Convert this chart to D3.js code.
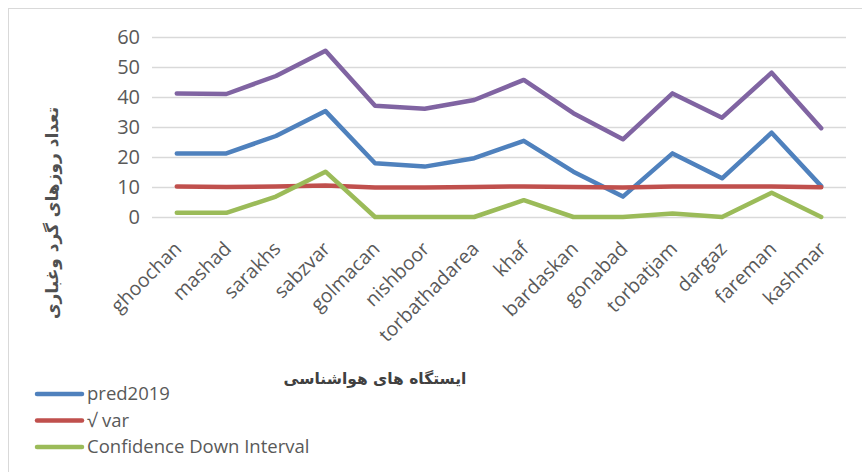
<!DOCTYPE html>
<html><head><meta charset="utf-8">
<script src="https://cdn.jsdelivr.net/npm/d3@7/dist/d3.min.js"></script>
<style>body{margin:0;background:#fff}svg{display:block}</style>
</head><body><svg id="c" width="862" height="472"></svg>
<script>
const categories = ["ghoochan","mashad","sarakhs","sabzvar","golmacan","nishboor","torbathadarea","khaf","bardaskan","gonabad","torbatjam","dargaz","fareman","kashmar"];
const pred2019 = [21.2,21.2,27,35.3,17.9,16.8,19.6,25.4,15.1,6.8,21.2,12.9,28.1,10.3];
const sqrtVar = [10.2,10.0,10.2,10.5,9.8,9.8,10.0,10.2,10.0,9.8,10.2,10.2,10.2,9.9];
const confDown = [1.4,1.4,6.8,15.1,0,0,0,5.6,0,0,1.2,0,8.1,0];
const confUp = [41.2,41,47,55.4,37.1,36.1,39,45.7,34.6,25.9,41.2,33.1,48.1,29.6];
const yTicks = [0,10,20,30,40,50,60];
const seriesNames = ["pred2019","√ var","Confidence Down Interval"];
const xTitle = "ایستگاه های هواشناسی";
const yTitle = "تعداد روزهای گرد وغباری";

const series = [
  {name: seriesNames[0], values: pred2019, color: "#4F81BD", legend: true},
  {name: seriesNames[1], values: sqrtVar, color: "#C0504D", legend: true},
  {name: seriesNames[2], values: confDown, color: "#9BBB59", legend: true},
  {name: "Confidence Up Interval", values: confUp, color: "#8064A2", legend: false}
];

const svg = d3.select("#c");
const font = "'Open Sans', 'DejaVu Sans', sans-serif";
// chart border
svg.append("rect").attr("x",8.5).attr("y",8.5).attr("width",900).attr("height",500)
  .attr("fill","none").attr("stroke","#d9d9d9").attr("stroke-width",1);

const x = d3.scaleBand().domain(categories).range([152, 846]);
const y = d3.scaleLinear().domain([0,60]).range([217, 37]);

// gridlines
svg.append("g").selectAll("line").data(yTicks).join("line")
  .attr("x1",152).attr("x2",846)
  .attr("y1",d=>Math.round(y(d))+0.5).attr("y2",d=>Math.round(y(d))+0.5)
  .attr("stroke","#d9d9d9").attr("stroke-width",1.3);

// y axis
const yAxis = svg.append("g").attr("transform","translate(152,0)")
  .call(d3.axisLeft(y).tickValues(yTicks).tickSize(0).tickPadding(12));
yAxis.select(".domain").remove();
yAxis.selectAll("text").attr("fill","#595959").style("font-family",font).style("font-size","20px");

// x axis
const xAxis = svg.append("g").attr("transform","translate(0,217)")
  .call(d3.axisBottom(x).tickSize(0).tickPadding(0));
xAxis.select(".domain").remove();
xAxis.selectAll("text")
  .attr("fill","#595959").style("font-family",font).style("font-size","19.5px")
  .attr("text-anchor","end").attr("dy","0")
  .attr("transform","translate(6,33) rotate(-45)");

// lines
const line = d3.line().x((d,i)=>x(categories[i])+x.bandwidth()/2).y(d=>y(d));
svg.append("g").selectAll("path").data(series).join("path")
  .attr("d",d=>line(d.values)).attr("fill","none")
  .attr("stroke",d=>d.color).attr("stroke-width",4.5)
  .attr("stroke-linejoin","round").attr("stroke-linecap","round");

// axis titles
svg.append("text").attr("x",375).attr("y",384).attr("text-anchor","middle")
  .attr("fill","#404040").style("font-family","'DejaVu Sans', sans-serif").style("font-weight","bold").style("font-size","15.5px")
  .attr("direction","rtl").text(xTitle);
svg.append("text").attr("transform","translate(58,213) rotate(-90)").attr("text-anchor","middle")
  .attr("fill","#505050").style("font-family","'DejaVu Sans', sans-serif").style("font-weight","600").style("font-size","17px")
  .attr("direction","rtl").text(yTitle);

// legend
const leg = svg.append("g").selectAll("g").data(series.filter(s=>s.legend)).join("g")
  .attr("transform",(d,i)=>`translate(0,${394 + i*26.5})`);
leg.append("line").attr("x1",37).attr("x2",82).attr("y1",0).attr("y2",0)
  .attr("stroke",d=>d.color).attr("stroke-width",4.5).attr("stroke-linecap","round");
leg.append("text").attr("x",87).attr("y",0).attr("dy","0.35em")
  .attr("fill","#595959").style("font-family",font).style("font-size","18.5px").text(d=>d.name);
</script></body></html>
